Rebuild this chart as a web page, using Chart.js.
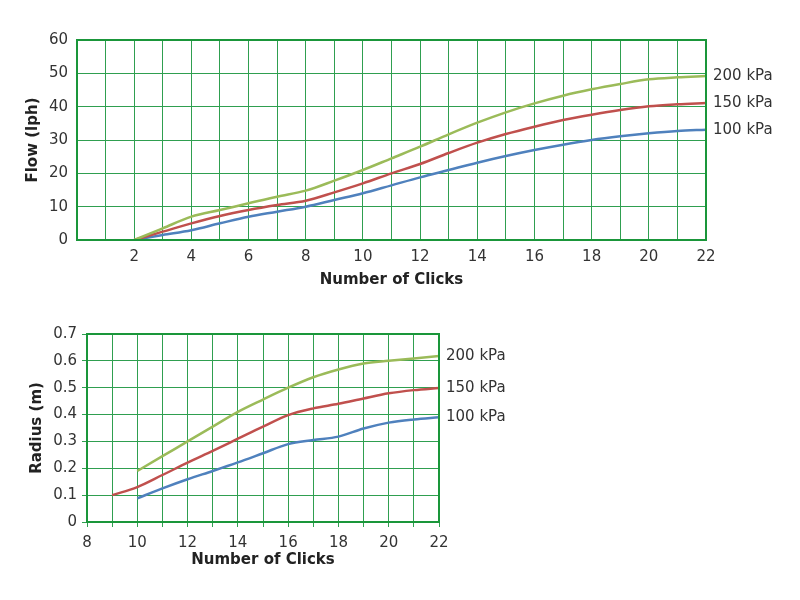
<!DOCTYPE html>
<html>
<head>
<meta charset="utf-8">
<script src="https://cdn.jsdelivr.net/npm/chart.js@4.4.1/dist/chart.umd.min.js"></script>
<style>
  html, body { margin: 0; padding: 0; background: #fff; }
  .box { position: absolute; left: 0; width: 800px; height: 300px; }
</style>
</head>
<body>
<div class="box" style="top:0"><canvas id="flowChart"></canvas></div>
<div class="box" style="top:300px"><canvas id="radiusChart"></canvas></div>
<script>
// flow vs clicks (top chart)
const flowClicks = [2, 3, 4, 5, 6, 7, 8, 9, 10, 11, 12, 13, 14, 15, 16, 17, 18, 19, 20, 21, 22];
const flow200 = [0, 3.5, 7, 9, 11, 13, 14.8, 17.8, 21, 24.5, 28, 31.7, 35.2, 38.3, 41, 43.3, 45.2, 46.8, 48.2, 48.8, 49.2];
const flow150 = [0, 2.5, 5, 7.2, 9, 10.5, 11.8, 14.3, 17, 20, 22.8, 26.1, 29.2, 31.8, 34, 36, 37.6, 39, 40.1, 40.7, 41.1];
const flow100 = [0, 1.5, 2.9, 5, 7, 8.5, 10, 12, 14, 16.4, 18.8, 21, 23.2, 25.2, 27, 28.6, 30, 31.1, 32, 32.7, 33.1];

// radius vs clicks (bottom chart)
const radiusClicks = [9, 10, 11, 12, 13, 14, 15, 16, 17, 18, 19, 20, 21, 22];
const radius200 = [null, 0.19, 0.245, 0.3, 0.355, 0.41, 0.456, 0.5, 0.539, 0.568, 0.59, 0.6, 0.609, 0.618];
const radius150 = [0.1, 0.13, 0.175, 0.221, 0.265, 0.31, 0.355, 0.398, 0.423, 0.44, 0.46, 0.479, 0.491, 0.499];
const radius100 = [null, 0.088, 0.125, 0.159, 0.19, 0.222, 0.256, 0.29, 0.305, 0.318, 0.348, 0.37, 0.382, 0.39];

const seriesNames = ['200 kPa', '150 kPa', '100 kPa'];
const seriesColors = ['#9bbb59', '#c0504d', '#4f81bd'];

const gridColor = '#2f9f50';
const frameColor = '#1a963a';
const textColor = '#333';
const fontFamily = '"DejaVu Sans", sans-serif';

function toPoints(xs, ys) {
    return xs.map((x, i) => ({ x: x, y: ys[i] })).filter(p => p.y !== null);
}

function makeDatasets(xs, ys) {
    return ys.map((vals, i) => ({
        label: seriesNames[i],
        data: toPoints(xs, vals),
        borderColor: seriesColors[i],
        borderWidth: 2.5,
        pointRadius: 0,
        cubicInterpolationMode: 'monotone',
        fill: false
    }));
}

// draws the frame and the series names at the end of each line
const endLabels = {
    id: 'endLabels',
    afterDraw(chart) {
        const { ctx, chartArea, scales } = chart;
        ctx.save();
        ctx.strokeStyle = frameColor;
        ctx.lineWidth = 2;
        ctx.strokeRect(chartArea.left, chartArea.top, chartArea.right - chartArea.left, chartArea.bottom - chartArea.top);
        ctx.font = '15px ' + fontFamily;
        ctx.fillStyle = textColor;
        ctx.textAlign = 'left';
        ctx.textBaseline = 'middle';
        chart.data.datasets.forEach(ds => {
            const last = ds.data[ds.data.length - 1];
            ctx.fillText(ds.label, chartArea.right + 7, scales.y.getPixelForValue(last.y));
        });
        ctx.restore();
    }
};

function fixSize(w, h) {
    return scale => {
        if (w !== null) scale.width = w;
        if (h !== null) scale.height = h;
    };
}

new Chart(document.getElementById('flowChart'), {
    type: 'line',
    data: { datasets: makeDatasets(flowClicks, [flow200, flow150, flow100]) },
    options: {
        responsive: true,
        maintainAspectRatio: false,
        animation: false,
        layout: { padding: { top: 40, right: 94, left: 0, bottom: 0 } },
        plugins: { legend: { display: false }, tooltip: { enabled: false } },
        scales: {
            x: {
                type: 'linear', min: 0, max: 22,
                afterFit: fixSize(null, 60),
                grid: { color: gridColor, drawTicks: false },
                border: { display: false },
                ticks: {
                    stepSize: 1, autoSkip: false, maxRotation: 0, padding: 8,
                    color: textColor, font: { family: fontFamily, size: 15 },
                    callback: v => (v > 0 && v % 2 === 0) ? String(v) : ''
                },
                title: {
                    display: true, text: 'Number of Clicks', color: '#222',
                    font: { family: fontFamily, size: 15, weight: 'bold' },
                    padding: { top: 2, bottom: 11 }
                }
            },
            y: {
                min: 0, max: 60,
                afterFit: fixSize(77, null),
                grid: { color: gridColor, drawTicks: false },
                border: { display: false },
                ticks: {
                    stepSize: 10, padding: 9,
                    color: textColor, font: { family: fontFamily, size: 15 }
                },
                title: {
                    display: true, text: 'Flow (lph)', color: '#222',
                    font: { family: fontFamily, size: 15, weight: 'bold' },
                    padding: { top: 24, bottom: 0 }
                }
            }
        }
    },
    plugins: [endLabels]
});

new Chart(document.getElementById('radiusChart'), {
    type: 'line',
    data: { datasets: makeDatasets(radiusClicks, [radius200, radius150, radius100]) },
    options: {
        responsive: true,
        maintainAspectRatio: false,
        animation: false,
        layout: { padding: { top: 34, right: 361, left: 0, bottom: 0 } },
        plugins: { legend: { display: false }, tooltip: { enabled: false } },
        scales: {
            x: {
                type: 'linear', min: 8, max: 22,
                afterFit: fixSize(null, 78),
                grid: { color: gridColor, tickLength: 5 },
                border: { display: false },
                ticks: {
                    stepSize: 1, autoSkip: false, maxRotation: 0, padding: 7,
                    color: textColor, font: { family: fontFamily, size: 15 },
                    callback: v => (v % 2 === 0) ? String(v) : ''
                },
                title: {
                    display: true, text: 'Number of Clicks', color: '#222',
                    font: { family: fontFamily, size: 15, weight: 'bold' },
                    padding: { top: 0, bottom: 31 }
                }
            },
            y: {
                min: 0, max: 0.7,
                afterFit: fixSize(87, null),
                grid: { color: gridColor, tickLength: 5 },
                border: { display: false },
                ticks: {
                    stepSize: 0.1, padding: 5,
                    color: textColor, font: { family: fontFamily, size: 15 },
                    callback: v => v === 0 ? '0' : v.toFixed(1)
                },
                title: {
                    display: true, text: 'Radius (m)', color: '#222',
                    font: { family: fontFamily, size: 15, weight: 'bold' },
                    padding: { top: 28, bottom: 0 }
                }
            }
        }
    },
    plugins: [endLabels]
});
</script>
</body>
</html>
